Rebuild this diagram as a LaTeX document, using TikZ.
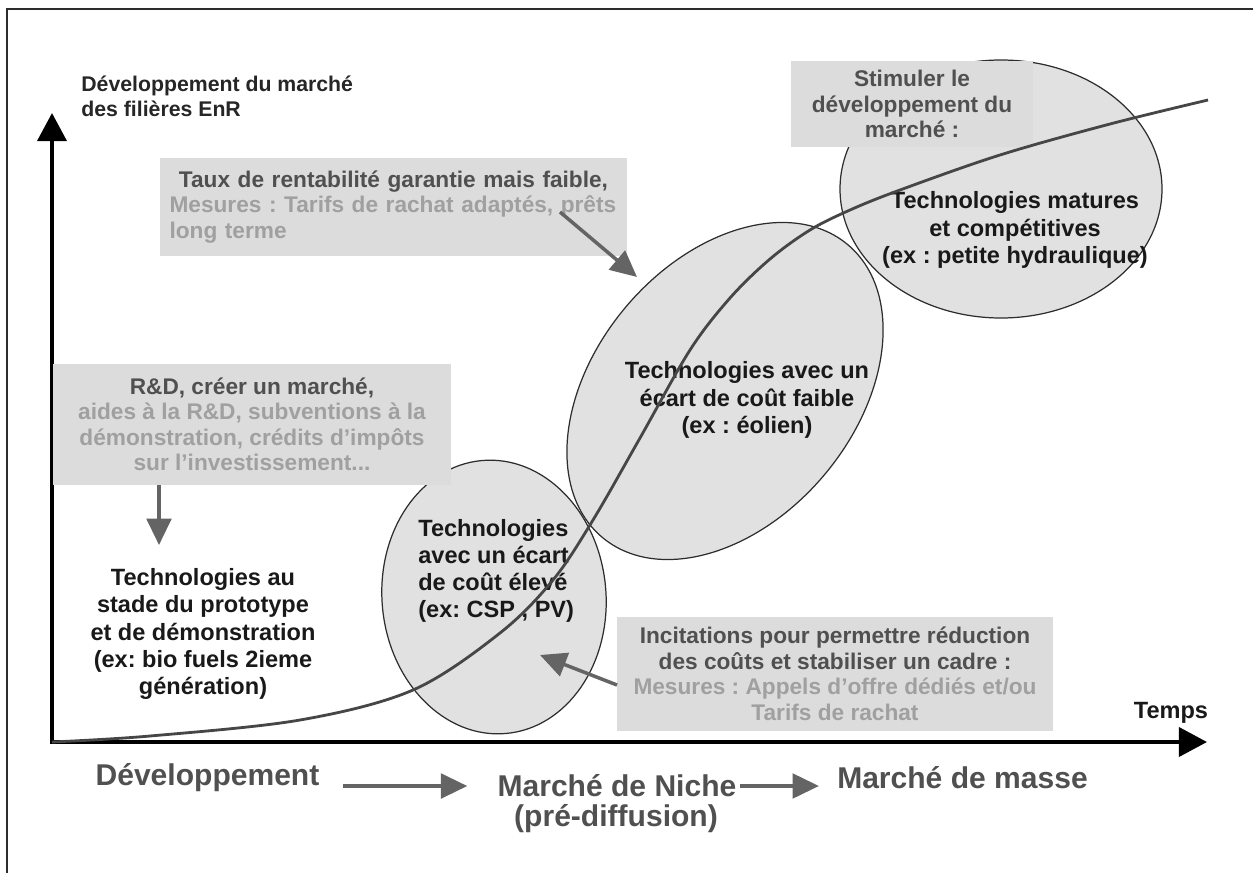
\documentclass[tikz,border=0pt]{standalone}
\usepackage{fontspec}
\setmainfont{Liberation Sans}
\usepackage{xcolor}
\usetikzlibrary{arrows.meta}
\frenchspacing

\definecolor{boxgray}{RGB}{220,220,220}
\definecolor{ellgray}{RGB}{225,225,225}
\definecolor{darktext}{RGB}{80,80,80}
\definecolor{lighttext}{RGB}{160,160,160}
\definecolor{arrowgray}{RGB}{100,100,100}
\definecolor{linegray}{RGB}{45,45,45}
\definecolor{curvegray}{RGB}{70,70,70}

\newcommand{\light}[1]{{\color{lighttext}#1}}
\newcommand{\boxfont}{\fontsize{12.9}{14.5}\selectfont\bfseries}
\newcommand{\techfont}{\fontsize{13.4}{15.5}\selectfont\bfseries}

\tikzset{
  graybox/.style={fill=boxgray,inner sep=0pt,font=\boxfont,text=darktext},
  techtext/.style={inner sep=0pt,font=\techfont,text=black!90,align=center},
  phase/.style={inner sep=0pt,font=\fontsize{17.1}{18.8}\selectfont\bfseries,text=darktext},
  axisarrow/.style={line width=2.3pt,{Triangle[length=16pt,width=16.5pt]}-{Triangle[length=16pt,width=16.5pt]}},
  grayarrow/.style={arrowgray,line width=2pt,-{Triangle[length=15pt,width=14pt]}}
}

\begin{document}
\begin{tikzpicture}[x=0.02cm,y=-0.02cm]
\useasboundingbox (0,0) rectangle (1253,872);
\draw[linegray,line width=0.9pt] (7,9) rectangle (1290,900);

% ellipses: fills first, then outlines
\foreach \cx/\cy/\rx/\ry/\ang in {494/597/112/137/5, 725/391/191/130/50, 1001/189/161/129/0}
  \fill[ellgray,rotate around={\ang:(\cx,\cy)}] (\cx,\cy) ellipse [x radius=\rx, y radius=\ry];
\foreach \cx/\cy/\rx/\ry/\ang in {494/597/112/137/5, 725/391/191/130/50, 1001/189/161/129/0}
  \draw[linegray,line width=0.7pt,rotate around={\ang:(\cx,\cy)}] (\cx,\cy) ellipse [x radius=\rx, y radius=\ry];

% axes
\coordinate (origin) at (52,742);
\coordinate (ytip) at (52,113);
\coordinate (xtip) at (1207,742);
\draw[axisarrow] (ytip) -- (origin) -- (xtip);

% gray boxes
\node[graybox,minimum width=9.34cm,minimum height=1.96cm,text width=8.96cm,align=left] (taux) at (393.5,207)
  {\makebox[\linewidth]{Taux de rentabilité garantie mais faible,}\\\light{Mesures : Tarifs de rachat adaptés, prêts}\\\light{long terme}};
\node[graybox,minimum width=4.84cm,minimum height=1.72cm,align=center] (stimuler) at (912,104)
  {Stimuler le\\développement du\\marché :};
\node[graybox,minimum width=7.96cm,minimum height=2.42cm,align=center] (rd) at (252,424.5)
  {R\&D, créer un marché,\\\light{aides à la R\&D, subventions à la}\\\light{démonstration, crédits d'impôts}\\\light{sur l'investissement...}};
\node[graybox,minimum width=8.72cm,minimum height=2.28cm,align=center] (incit) at (835,674)
  {Incitations pour permettre réduction\\des coûts et stabiliser un cadre :\\\light{Mesures : Appels d'offre dédiés et/ou}\\\light{Tarifs de rachat}};

% texts
\node[inner sep=0pt,anchor=west,align=left,font=\fontsize{12.1}{14.2}\selectfont\bfseries,text=black!85] (ylabel) at (81,96)
  {Développement du marché\\des filières EnR};
\node[techtext] (proto) at (203,634) {Technologies au\\stade du prototype\\et de démonstration\\(ex: bio fuels 2ieme\\génération)};
\node[techtext,align=left,anchor=west] (csp) at (418,571) {Technologies\\avec un écart\\de coût élevé\\(ex: CSP , PV)};
\node[techtext] (eolien) at (747,400) {Technologies avec un\\écart de coût faible\\(ex : éolien)};
\node[techtext] (matures) at (1015,230) {Technologies matures\\et compétitives\\(ex : petite hydraulique)};
\node[techtext] (temps) at (1171,713) {Temps};

\node[phase] (dev) at (207.5,778) {Développement};
\node[phase] (niche) at (617,786) {Marché de Niche};
\node[phase] (prediff) at (616,819) {(pré-diffusion)};
\node[phase] (masse) at (962.5,778) {Marché de masse};

% market curve
\draw[curvegray,line width=1.6pt] plot[smooth,tension=0.55] coordinates {(52,742) (150,736) (300,720) (413,690) (500,633) (553,580) (593,520) (640,438) (690,350) (730,298) (770,259) (810,230) (850,210) (900,190) (1000,155) (1110,124) (1208,100)};

% arrows
\coordinate (tauxfrom) at (560,212);
\coordinate (tauxtip) at (637,277);
\coordinate (rdtip) at (159,545);
\coordinate (incitfrom) at (617,685);
\coordinate (incittip) at (540,655);
\draw[grayarrow] (tauxfrom) -- (tauxtip);
\draw[grayarrow] (rdtip |- rd.south) -- (rdtip);
\draw[grayarrow] (incitfrom) -- (incittip);
\draw[grayarrow,shorten <=0.46cm,shorten >=0.6cm] (dev.east |- niche.west) -- (niche.west);
\draw[grayarrow,shorten <=0.06cm,shorten >=0.36cm] (niche.east) -- (masse.west |- niche.east);
\end{tikzpicture}
\end{document}
